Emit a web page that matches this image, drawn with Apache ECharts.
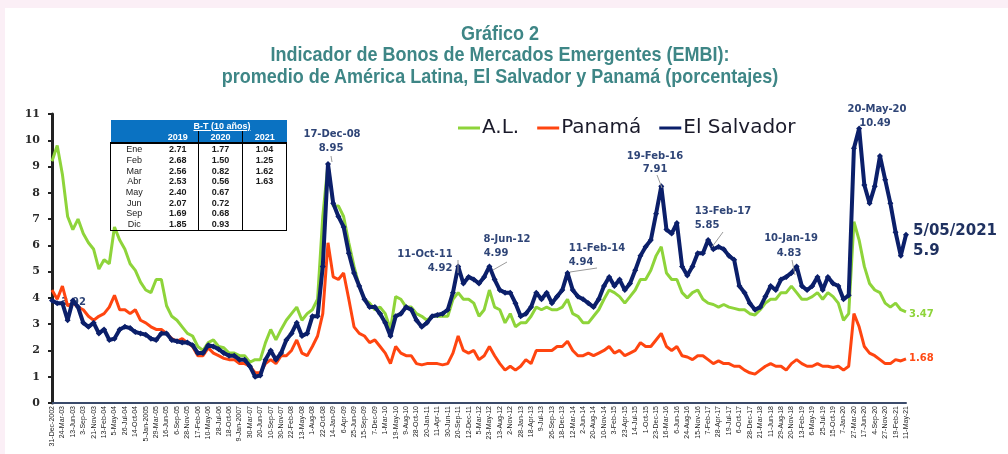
<!DOCTYPE html>
<html><head><meta charset="utf-8">
<script src="https://cdn.jsdelivr.net/npm/echarts@6/dist/echarts.min.js"></script>
<style>
html,body{margin:0;padding:0;width:1008px;height:454px;overflow:hidden;background:#fbeff6;}
#panel{position:absolute;left:5px;top:8px;width:1003px;height:446px;background:#fff;}
#chart{position:absolute;left:0;top:0;width:1008px;height:454px;}
.tl{position:absolute;left:500px;white-space:nowrap;font-family:'Liberation Sans Narrow','Liberation Sans',Arial,sans-serif;font-weight:bold;font-size:21px;line-height:21px;color:#3e8686;transform-origin:0 50%;}
#tbl{position:absolute;left:110px;top:120px;border-collapse:collapse;font-family:'Liberation Sans',Arial,sans-serif;font-size:9px;table-layout:fixed;}
#tbl td{padding:0;text-align:center;height:10.7px;line-height:10px;color:#1a1a1a;}
#tbl tr.h td{background:#0a72c2;color:#fff;font-weight:bold;height:11px;}
#tbl td.v{font-weight:bold;}
</style></head>
<body>
<div id="panel"></div>
<div id="chart"></div>
<div class="tl" id="t1" style="top:22px">Gráfico 2</div>
<div class="tl" id="t2" style="top:43px">Indicador de Bonos de Mercados Emergentes (EMBI):</div>
<div class="tl" id="t3" style="top:65px">promedio de América Latina, El Salvador y Panamá (porcentajes)</div>
<table id="tbl"></table>
<script>
// ---------- data ----------
const xLabels = ['31-Dec-2002','24-Mar-03','13-Jun-03','3-Sep-03','21-Nov-03','13-Feb-04','5-May-04','26-Jul-04','14-Oct-04','5-Jan-2005',
'29-Mar-05','16-Jun-05','6-Sep-05','28-Nov-05','17-Feb-06','10-May-06','28-Jul-06','18-Oct-06','9-Jan-2007','30-Mar-07',
'20-Jun-07','10-Sep-07','30-Nov-07','22-Feb-08','13-May-08','1-Aug-08','22-Oct-08','14-Jan-09','6-Apr-09','25-Jun-09',
'15-Sep-09','7-Dec-09','1-Mar-10','19-May-10','9-Aug-10','28-Oct-10','20-Jan-11','11-Apr-11','30-Jun-11','20-Sep-11',
'12-Dec-11','5-Mar-12','23-May-12','13-Aug-12','2-Nov-12','28-Jan-13','18-Apr-13','9-Jul-13','26-Sep-13','18-Dec-13',
'12-Mar-14','2-Jun-14','20-Aug-14','10-Nov-14','3-Feb-15','23-Apr-15','14-Jul-15','1-Oct-15','23-Dec-15','16-Mar-16',
'6-Jun-16','24-Aug-16','15-Nov-16','7-Feb-17','28-Apr-17','19-Jul-17','6-Oct-17','28-Dec-17','21-Mar-18','11-Jun-18',
'29-Aug-18','20-Nov-18','13-Feb-19','6-May-19','25-Jul-19','15-Oct-19','7-Jan-20','27-Mar-20','17-Jun-20','4-Sep-20',
'27-Nov-20','19-Feb-21','11-May-21'];

const seriesNames = ['A.L.', 'Panamá', 'El Salvador'];

// values sampled every half label interval
const alValues = [
9.2,9.8,8.7,7.1,6.6,7.0,6.45,6.1,5.85,5.1,
5.45,5.3,6.7,6.2,5.85,5.3,5.05,4.6,4.3,4.2,
4.7,4.7,3.7,3.3,3.15,2.9,2.65,2.55,2.15,2.0,
2.3,2.4,2.15,2.1,1.9,1.9,1.8,1.8,1.55,1.65,
1.65,2.3,2.8,2.4,2.8,3.15,3.4,3.65,3.15,3.4,
3.55,3.95,7.1,9.1,7.5,7.5,7.1,6.1,5.2,4.45,
3.95,3.8,3.55,3.65,3.4,2.8,4.05,3.95,3.65,3.65,
3.4,3.3,3.15,3.3,3.3,3.3,3.3,3.95,4.2,3.95,
3.95,3.8,3.3,3.55,4.3,3.65,3.55,3.05,3.4,2.9,
3.05,3.05,3.3,3.65,3.55,3.65,3.55,3.55,3.65,3.95,
3.4,3.3,3.05,3.05,3.3,3.55,3.95,4.3,4.2,4.05,
3.8,4.05,4.3,4.7,4.7,5.05,5.6,5.95,4.95,4.7,
4.7,4.2,4.0,4.2,4.3,3.95,3.8,3.75,3.65,3.75,
3.65,3.6,3.55,3.55,3.4,3.35,3.55,3.8,3.95,3.95,
4.2,4.2,4.45,4.2,3.95,3.95,4.05,4.2,3.95,4.2,
4.05,3.8,3.15,3.4,6.9,6.2,5.2,4.55,4.3,4.2,
3.8,3.65,3.8,3.55,3.47];

const panamaValues = [
4.3,3.95,4.45,3.7,3.8,3.65,3.55,3.3,3.15,3.3,
3.4,3.65,4.1,3.55,3.55,3.4,3.55,3.15,3.05,2.9,
2.8,2.8,2.65,2.45,2.35,2.45,2.3,2.15,1.8,1.8,
2.1,1.9,1.8,1.7,1.65,1.65,1.5,1.5,1.4,1.15,
1.15,1.5,1.65,1.5,1.8,1.8,2.0,2.4,1.9,1.8,
2.15,2.55,3.4,6.1,4.8,4.7,4.95,3.95,2.9,2.65,
2.55,2.3,2.4,2.15,1.9,1.5,2.15,1.9,1.8,1.8,
1.5,1.45,1.5,1.5,1.5,1.45,1.5,1.9,2.55,2.0,
1.9,2.0,1.65,1.8,2.15,1.8,1.5,1.25,1.4,1.25,
1.4,1.65,1.5,2.0,2.0,2.0,2.0,2.15,2.15,2.35,
2.0,1.8,1.8,1.9,1.8,1.9,2.0,2.15,1.9,2.0,
1.8,1.9,2.0,2.3,2.15,2.15,2.4,2.65,2.15,2.0,
2.15,1.8,1.75,1.65,1.8,1.8,1.65,1.5,1.6,1.5,
1.5,1.4,1.4,1.25,1.15,1.1,1.25,1.4,1.5,1.4,
1.4,1.25,1.5,1.65,1.5,1.4,1.4,1.5,1.4,1.4,
1.35,1.4,1.25,1.4,3.4,2.9,2.15,1.9,1.8,1.65,
1.5,1.5,1.65,1.6,1.68];

const salvadorValues = [
3.9,3.8,3.8,3.15,3.9,3.65,3.05,2.9,3.05,2.65,
2.8,2.4,2.45,2.8,2.9,2.85,2.7,2.65,2.6,2.45,
2.4,2.65,2.65,2.4,2.35,2.3,2.3,2.2,1.9,1.9,
2.2,2.15,2.05,1.9,1.8,1.8,1.65,1.65,1.4,1.0,
1.05,1.65,2.0,1.65,1.9,2.4,2.65,3.05,2.55,2.65,
3.3,3.3,5.2,9.1,7.6,7.1,6.7,5.7,4.95,4.45,
3.95,3.65,3.65,3.4,3.05,2.55,3.3,3.4,3.65,3.55,
3.15,2.9,3.05,3.3,3.35,3.4,3.55,4.2,5.2,4.55,
4.8,4.7,4.55,4.8,5.2,4.7,4.3,4.2,4.2,3.8,
3.3,3.4,3.65,4.2,3.95,4.2,3.8,4.05,4.3,4.95,
4.3,4.05,3.95,3.8,3.65,3.95,4.45,4.8,4.45,4.7,
4.3,4.55,5.05,5.6,5.95,6.2,7.2,8.25,6.6,6.45,
6.85,5.2,4.85,5.2,5.7,5.7,6.2,5.85,5.95,5.85,
5.6,5.45,4.45,4.2,3.8,3.55,3.65,4.05,4.45,4.3,
4.7,4.8,4.95,5.2,4.45,4.3,4.45,4.8,4.3,4.8,
4.55,4.45,3.95,4.1,9.7,10.45,8.3,7.6,8.25,9.4,
8.5,7.6,6.5,5.6,6.4];

const yTicks = [0,1,2,3,4,5,6,7,8,9,10,11];

const annotDates  = ['17-Dec-08','11-Oct-11','8-Jun-12','11-Feb-14','19-Feb-16','13-Feb-17','10-Jan-19','20-May-20'];
const annotValues = ['8.95','4.92','4.99','4.94','7.91','5.85','4.83','10.49'];
const lastDate = '5/05/2021';
const lastSalvador = '5.9';
const lastAL = '3.47';
const lastPanama = '1.68';
const startLabel = '3.92';

const tableTitle = 'B-T (10 años)';
const tableYears = ['2019','2020','2021'];
const tableMonths = ['Ene','Feb','Mar','Abr','May','Jun','Sep','Dic'];
const bt2019 = ['2.71','2.68','2.56','2.53','2.40','2.07','1.69','1.85'];
const bt2020 = ['1.77','1.50','0.82','0.56','0.67','0.72','0.68','0.93'];
const bt2021 = ['1.04','1.25','1.62','1.63','','','',''];

// ---------- title scaling (condensed look) ----------
(function(){
  const t2 = document.getElementById('t2');
  const s = 459 / t2.getBoundingClientRect().width;
  ['t1','t2','t3'].forEach(id => {
    const el = document.getElementById(id);
    const w = el.getBoundingClientRect().width;
    el.style.transform = 'translateX(' + (-w * s / 2) + 'px) scaleX(' + s + ')';
  });
})();

// ---------- table ----------
(function(){
  const tb = document.getElementById('tbl');
  const B = '1px solid #000';
  let h = '<colgroup><col style="width:47px"><col style="width:41px"><col style="width:44px"><col style="width:44px"></colgroup>';
  h += '<tr class="h"><td></td><td colspan="3" style="text-decoration:underline">' + tableTitle + '</td></tr>';
  h += '<tr class="h" style="border-bottom:2px solid #000"><td></td>' +
       tableYears.map((y,i) => '<td style="' + (i>0 ? 'border-left:'+B+';' : '') + '">' + y + '</td>').join('') + '</tr>';
  tableMonths.forEach((m, r) => {
    const last = r === tableMonths.length - 1;
    const bb = last ? 'border-bottom:'+B+';' : '';
    h += '<tr><td style="border-left:'+B+';'+bb+'">' + m + '</td>' +
         '<td class="v" style="'+bb+'">' + bt2019[r] + '</td>' +
         '<td class="v" style="border-left:'+B+';'+bb+'">' + bt2020[r] + '</td>' +
         '<td class="v" style="border-left:'+B+';border-right:'+B+';'+bb+'">' + bt2021[r] + '</td></tr>';
  });
  tb.innerHTML = h;
})();

// ---------- chart ----------
const chart = echarts.init(document.getElementById('chart'), null, {renderer: 'canvas'});
const toXY = arr => arr.map((v, k) => [k * 0.5, v]);

const annFont = 'bold 10px "DejaVu Sans", Verdana, sans-serif';
const annColor = '#2f4577';
const txt = (x, y, s, opts) => Object.assign({
  type: 'text', x: x, y: y, z: 100,
  style: Object.assign({text: s, font: annFont, fill: annColor, textAlign: 'center', textVerticalAlign: 'middle'}, opts || {})
});
const ln = (x1, y1, x2, y2) => ({type: 'line', z: 100, shape: {x1, y1, x2, y2}, style: {stroke: '#9a9a9a', lineWidth: 1}});

const datePos = [[332,134],[425,254],[507,239],[597,248],[655,156],[723,211],[791,238],[877,109]];
const valPos  = [[331,148],[440,268],[496,253],[581,262],[655,169],[707,225],[789,253],[875,123]];
const graphics = [];
annotDates.forEach((d, i) => {
  graphics.push(txt(datePos[i][0], datePos[i][1], d));
  graphics.push(txt(valPos[i][0], valPos[i][1], annotValues[i]));
});
graphics.push(ln(458,260,458,273), ln(507,262,493,270), ln(597,268,570,272), ln(657,175,662,188), ln(723,232,712,247), ln(792,260,795,275), ln(331,156,332,162));
graphics.push(txt(913, 231, lastDate, {textAlign: 'left', font: 'bold 15px "DejaVu Sans", Verdana, sans-serif', fill: '#1f3160'}));
graphics.push(txt(913, 251, lastSalvador, {textAlign: 'left', font: 'bold 15px "DejaVu Sans", Verdana, sans-serif', fill: '#1f3160'}));
graphics.push(txt(909, 314, lastAL, {textAlign: 'left', fill: '#8ed43a'}));
graphics.push(txt(909, 358, lastPanama, {textAlign: 'left', fill: '#ff4a14'}));
const g0 = txt(86, 302, startLabel, {textAlign: 'right'}); g0.z = 0;
graphics.push(g0);

chart.setOption({
  backgroundColor: 'transparent',
  animation: false,
  grid: {left: 52, right: 102, top: 114, bottom: 51, containLabel: false},
  legend: {
    left: 458, top: 118, padding: 0, itemWidth: 22, itemHeight: 3, itemGap: 18, icon: 'rect',
    textStyle: {fontFamily: '"DejaVu Sans", Verdana, sans-serif', fontSize: 20, color: '#1a1a2a', padding: [0, 0, 0, -3]},
    data: seriesNames
  },
  xAxis: {
    type: 'value', min: 0, max: xLabels.length - 1, interval: 1,
    axisLine: {show: true, onZero: false, lineStyle: {color: '#3a4a6a', width: 2}},
    axisTick: {show: false},
    splitLine: {show: false},
    axisLabel: {
      rotate: 90, margin: 3, fontSize: 7, color: '#222',
      fontFamily: '"Liberation Sans", Arial, sans-serif',
      showMinLabel: true, showMaxLabel: true,
      formatter: v => xLabels[Math.round(v)] || ''
    }
  },
  yAxis: {
    type: 'value', min: yTicks[0], max: yTicks[yTicks.length - 1], interval: 1,
    axisLine: {show: true, lineStyle: {color: '#222', width: 3}},
    axisTick: {show: true, length: 4, lineStyle: {color: '#222', width: 2}},
    splitLine: {show: false},
    axisLabel: {margin: 12, fontSize: 11, fontWeight: 'bold', color: '#2a2a2a', fontFamily: '"DejaVu Serif", "Liberation Serif", serif'}
  },
  graphic: graphics,
  series: [
    {name: seriesNames[0], type: 'line', data: toXY(alValues), showSymbol: false, color: '#8ed43a',
     lineStyle: {width: 3, color: '#8ed43a'}, z: 2},
    {name: seriesNames[1], type: 'line', data: toXY(panamaValues), showSymbol: false, color: '#ff4510',
     lineStyle: {width: 3, color: '#ff4510'}, z: 3},
    {name: seriesNames[2], type: 'line', data: toXY(salvadorValues), symbol: 'diamond', symbolSize: 6, showSymbol: true,
     color: '#0b1f6a', itemStyle: {color: '#0b1f6a'}, lineStyle: {width: 4, color: '#0b1f6a'}, z: 4}
  ]
});
</script>
</body></html>
